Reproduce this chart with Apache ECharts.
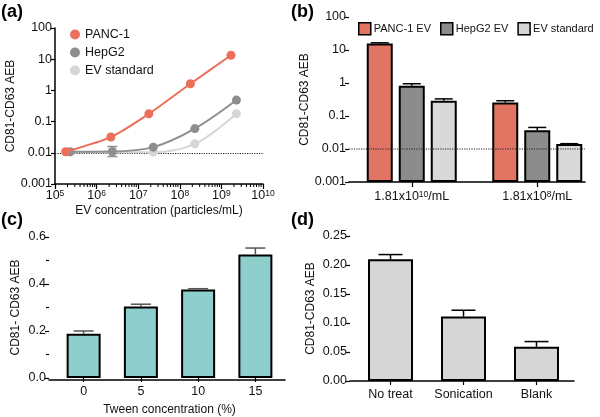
<!DOCTYPE html>
<html><head><meta charset="utf-8">
<script src="https://cdn.jsdelivr.net/npm/echarts@6/dist/echarts.min.js"></script>
<style>html,body{margin:0;padding:0;background:#fff}#c{width:600px;height:417px}</style>
</head><body><div id="c"></div>
<script>
// ---------- Panel (a) ----------
const PANC_X = [1.8e5, 2.2e6, 1.8e7, 1.8e8, 1.7e9];
const PANC_Y = [0.0108, 0.032, 0.177, 1.64, 13.4];
const HEPG2_X = [2.3e5, 2.4e6, 2.3e7, 2.3e8, 2.3e9];
const HEPG2_Y = [0.0108, 0.011, 0.0152, 0.0597, 0.49];
const HEPG2_ERR = [[2.4e6, 0.0076, 0.0159]];
const EV_X = [2.3e5, 2.4e6, 2.3e7, 2.3e8, 2.3e9];
const EV_Y = [0.0105, 0.0105, 0.0105, 0.0194, 0.18];
const BASELINE_A = 0.0105;
const X_EXP_A = [5, 6, 7, 8, 9];          // decades for minor ticks
const MINOR_K = [2, 3, 4, 5, 6, 7, 8, 9];
// ---------- Panel (b) ----------
const CAT_B = ['1.81x10^10/mL', '1.81x10^8/mL'];
const PANC_EV = [15.7, 0.255];
const PANC_EV_ERR = [16.5, 0.29];
const HEPG2_EV = [0.83, 0.037];
const HEPG2_EV_ERR = [0.95, 0.045];
const EVSTD_B = [0.29, 0.0142];
const EVSTD_B_ERR = [0.33, 0.0145];
const THRESH_B = 0.01;
// ---------- Panel (c) ----------
const TWEEN = ['0', '5', '10', '15'];
const TWEEN_Y = [0.188, 0.304, 0.377, 0.526];
const TWEEN_ERR = [0.200, 0.314, 0.380, 0.553];
// ---------- Panel (d) ----------
const TREAT = ['No treat', 'Sonication', 'Blank'];
const TREAT_Y = [0.210, 0.111, 0.059];
const TREAT_ERR = [0.218, 0.122, 0.068];

const FONT = "'Liberation Sans', Arial, Helvetica, sans-serif";
const C_PANC = '#EC6F5B', C_HEP = '#8E8E8E', C_EV = '#D6D6D6';
const B_PANC = '#E27464', B_HEP = '#8C8C8C', B_EV = '#D9D9D9';
const AX = {lineStyle: {color: '#000', width: 1.5}, onZero: false};
const TICK = {show: true, length: 4, lineStyle: {color: '#000', width: 1.2}};
const LBL = {color: '#111', fontSize: 12.5, fontFamily: FONT};
const NAME = {color: '#111', fontSize: 12, fontFamily: FONT};

function logLabel(v) {
  const e = Math.round(Math.log10(v));
  return e >= 0 ? String(Math.pow(10, e)) : '0.' + '0'.repeat(-e - 1) + '1';
}
function seg(x1, y1, x2, y2, color, w) {
  return {type: 'line', shape: {x1, y1, x2, y2}, style: {stroke: color, lineWidth: w}};
}
function errBar(color, half, offsetStep, both) {
  return function (params, api) {
    const off = offsetStep ? (api.value(3) - 1) * offsetStep : 0;
    const p = api.coord([api.value(0), api.value(1)]);
    const q = api.coord([api.value(0), api.value(2)]);
    const x = p[0] + off;
    const ch = [seg(x, p[1], x, q[1], color, 1.5), seg(x - half, q[1], x + half, q[1], color, 1.5)];
    if (both) ch.push(seg(x - half, p[1], x + half, p[1], color, 1.5));
    return {type: 'group', children: ch};
  };
}
const minorData = [];
X_EXP_A.forEach(e => MINOR_K.forEach(k => minorData.push([k * Math.pow(10, e), 0.001])));

const BW_B = 26, GAP_B = 6;
const zipB = (vals, errs, i) => CAT_B.map((c, j) => [j, vals[j], errs[j], i]);

const option = {
  animation: false,
  textStyle: {fontFamily: FONT},
  graphic: [
    {type: 'text', left: 1, top: 3, style: {text: '(a)', font: 'bold 18px ' + FONT, fill: '#000'}},
    {type: 'text', left: 291, top: 3, style: {text: '(b)', font: 'bold 18px ' + FONT, fill: '#000'}},
    {type: 'text', left: 1, top: 211, style: {text: '(c)', font: 'bold 18px ' + FONT, fill: '#000'}},
    {type: 'text', left: 291, top: 211, style: {text: '(d)', font: 'bold 18px ' + FONT, fill: '#000'}}
  ],
  legend: [
    {data: ['PANC-1', 'HepG2', 'EV standard'], orient: 'vertical', left: 65, top: 23, icon: 'circle',
     itemWidth: 10, itemHeight: 10, itemGap: 5, selectedMode: false,
     textStyle: {fontSize: 12.5, color: '#111', fontFamily: FONT}},
    {data: ['PANC-1 EV', 'HepG2 EV', 'EV standard'], left: 353, top: 17, width: 260, icon: 'rect',
     itemWidth: 12, itemHeight: 12, itemGap: 9, selectedMode: false,
     itemStyle: {borderColor: '#000', borderWidth: 1.5},
     textStyle: {fontSize: 11, color: '#111', fontFamily: FONT, padding: [0, 0, 0, -2]}}
  ],
  grid: [
    {left: 55, top: 28, width: 208, height: 156},
    {left: 349, top: 17, width: 254, height: 165},
    {left: 349, top: 17, width: 236, height: 165},
    {left: 55, top: 237, width: 229, height: 143},
    {left: 49, top: 237, width: 236, height: 143},
    {left: 354, top: 236, width: 219, height: 145},
    {left: 350, top: 236, width: 224, height: 145}
  ],
  xAxis: [
    {gridIndex: 0, type: 'log', logBase: 10, min: 1e5, max: 1e10, axisLine: AX, axisTick: Object.assign({}, TICK, {length: 5}),
     splitLine: {show: false},
     axisLabel: Object.assign({}, LBL, {margin: 5, formatter: v => '{b|10}{s|' + Math.round(Math.log10(v)) + '}',
       rich: {b: {fontSize: 12.5, color: '#111', fontFamily: FONT}, s: {fontSize: 8.5, color: '#111', fontFamily: FONT, verticalAlign: 'top'}}}),
     name: 'EV concentration (particles/mL)', nameLocation: 'middle', nameGap: 21, nameTextStyle: NAME},
    {gridIndex: 1, type: 'category', data: CAT_B, axisLine: {show: false}, axisTick: Object.assign({}, TICK, {alignWithLabel: true, length: 5}),
     axisLabel: Object.assign({}, LBL, {margin: 8, interval: 0, hideOverlap: false, formatter: s => s.replace(/\^(\d+)/, '{s|$1}'),
       rich: {s: {fontSize: 8.5, color: '#111', fontFamily: FONT, verticalAlign: 'top'}}})},
    {gridIndex: 2, type: 'value', min: 0, max: 1, axisLine: AX, axisTick: {show: false}, axisLabel: {show: false}, splitLine: {show: false}},
    {gridIndex: 3, type: 'category', data: TWEEN, axisLine: {show: false}, axisTick: Object.assign({}, TICK, {alignWithLabel: true}),
     axisLabel: Object.assign({}, LBL, {margin: 7, interval: 0}),
     name: 'Tween concentration (%)', nameLocation: 'middle', nameGap: 26, nameTextStyle: NAME},
    {gridIndex: 4, type: 'value', min: 0, max: 1, axisLine: AX, axisTick: {show: false}, axisLabel: {show: false}, splitLine: {show: false}},
    {gridIndex: 5, type: 'category', data: TREAT, axisLine: {show: false}, axisTick: Object.assign({}, TICK, {alignWithLabel: true}),
     axisLabel: Object.assign({}, LBL, {margin: 7, interval: 0, hideOverlap: false})},
    {gridIndex: 6, type: 'value', min: 0, max: 1, axisLine: AX, axisTick: {show: false}, axisLabel: {show: false}, splitLine: {show: false}}
  ],
  yAxis: [
    {gridIndex: 0, type: 'log', logBase: 10, min: 0.001, max: 100, axisLine: AX, axisTick: TICK, splitLine: {show: false},
     axisLabel: Object.assign({}, LBL, {margin: 3, formatter: logLabel}),
     name: 'CD81-CD63 AEB', nameLocation: 'middle', nameGap: 32, nameTextStyle: NAME},
    {gridIndex: 1, type: 'log', logBase: 10, min: 0.001, max: 100, startValue: 0.001, axisLine: AX, axisTick: TICK, splitLine: {show: false},
     axisLabel: Object.assign({}, LBL, {margin: 3, formatter: logLabel}),
     name: 'CD81-CD63 AEB', nameLocation: 'middle', nameGap: 31, nameTextStyle: NAME},
    {gridIndex: 2, type: 'log', logBase: 10, min: 0.001, max: 100, show: false},
    {gridIndex: 3, type: 'value', min: 0, max: 0.6, interval: 0.2, offset: 6, axisLine: AX, axisTick: TICK,
     minorTick: {show: true, splitNumber: 2, length: 3, lineStyle: {color: '#000', width: 1.2}},
     splitLine: {show: false}, axisLabel: Object.assign({}, LBL, {margin: 3, formatter: v => v.toFixed(1)}),
     name: 'CD81- CD63 AEB', nameLocation: 'middle', nameGap: 27, nameTextStyle: NAME},
    {gridIndex: 4, type: 'value', min: 0, max: 1, show: false},
    {gridIndex: 5, type: 'value', min: 0, max: 0.25, interval: 0.05, offset: 4, axisLine: AX, axisTick: TICK,
     splitLine: {show: false}, axisLabel: Object.assign({}, LBL, {margin: 3, formatter: v => v.toFixed(2)}),
     name: 'CD81-CD63 AEB', nameLocation: 'middle', nameGap: 33, nameTextStyle: NAME},
    {gridIndex: 6, type: 'value', min: 0, max: 1, show: false}
  ],
  series: [
    // (a)
    {name: 'EV standard', type: 'line', xAxisIndex: 0, yAxisIndex: 0, z: 2, smooth: 0.35,
     data: EV_X.map((x, i) => [x, EV_Y[i]]), symbol: 'circle', symbolSize: 9,
     lineStyle: {color: C_EV, width: 2}, itemStyle: {color: C_EV}},
    {name: 'HepG2', type: 'line', xAxisIndex: 0, yAxisIndex: 0, z: 3, smooth: 0.35,
     data: HEPG2_X.map((x, i) => [x, HEPG2_Y[i]]), symbol: 'circle', symbolSize: 9,
     lineStyle: {color: C_HEP, width: 2}, itemStyle: {color: C_HEP}},
    {name: 'PANC-1', type: 'line', xAxisIndex: 0, yAxisIndex: 0, z: 4, smooth: 0.2,
     data: PANC_X.map((x, i) => [x, PANC_Y[i]]), symbol: 'circle', symbolSize: 9,
     lineStyle: {color: C_PANC, width: 2}, itemStyle: {color: C_PANC},
     markLine: {silent: true, symbol: 'none', label: {show: false}, z: 1,
       lineStyle: {color: '#222', type: 'dotted', width: 1.2}, data: [{yAxis: BASELINE_A}]}},
    {type: 'custom', xAxisIndex: 0, yAxisIndex: 0, z: 3, data: HEPG2_ERR, encode: {x: 0, y: [1, 2]},
     renderItem: errBar(C_HEP, 5, 0, true)},
    {type: 'custom', xAxisIndex: 0, yAxisIndex: 0, z: 5, data: minorData, encode: {x: 0, y: 1}, silent: true,
     renderItem: (params, api) => {
       const p = api.coord([api.value(0), api.value(1)]);
       return seg(p[0], p[1], p[0], p[1] + 3, '#000', 1);
     }},
    // (b)
    {name: 'PANC-1 EV', type: 'bar', xAxisIndex: 1, yAxisIndex: 1, data: PANC_EV, barWidth: BW_B, barGap: (GAP_B / BW_B * 100) + '%',
     itemStyle: {color: B_PANC, borderColor: '#000', borderWidth: 2}},
    {name: 'HepG2 EV', type: 'bar', xAxisIndex: 1, yAxisIndex: 1, data: HEPG2_EV, barWidth: BW_B, barGap: (GAP_B / BW_B * 100) + '%',
     itemStyle: {color: B_HEP, borderColor: '#000', borderWidth: 2}},
    {name: 'EV standard', type: 'bar', xAxisIndex: 1, yAxisIndex: 1, data: EVSTD_B, barWidth: BW_B, barGap: (GAP_B / BW_B * 100) + '%',
     itemStyle: {color: B_EV, borderColor: '#000', borderWidth: 2}},
    {type: 'custom', xAxisIndex: 1, yAxisIndex: 1, z: 4,
     data: [].concat(zipB(PANC_EV, PANC_EV_ERR, 0), zipB(HEPG2_EV, HEPG2_EV_ERR, 1), zipB(EVSTD_B, EVSTD_B_ERR, 2)),
     encode: {x: 0, y: [1, 2]}, renderItem: errBar('#000', 9, BW_B + GAP_B, false)},
    {type: 'line', xAxisIndex: 2, yAxisIndex: 2, z: 5, silent: true, symbol: 'none',
     data: [[0, THRESH_B], [1, THRESH_B]], lineStyle: {color: '#222', type: 'dotted', width: 1.2}},
    // (c)
    {type: 'bar', xAxisIndex: 3, yAxisIndex: 3, data: TWEEN_Y, barWidth: 34,
     itemStyle: {color: '#8ECFCE', borderColor: '#000', borderWidth: 2}},
    {type: 'custom', xAxisIndex: 3, yAxisIndex: 3, z: 4, data: TWEEN.map((c, i) => [i, TWEEN_Y[i], TWEEN_ERR[i]]),
     encode: {x: 0, y: [1, 2]}, renderItem: errBar('#555', 10, 0, false)},
    // (d)
    {type: 'bar', xAxisIndex: 5, yAxisIndex: 5, data: TREAT_Y, barWidth: 45,
     itemStyle: {color: '#D6D6D6', borderColor: '#000', borderWidth: 2}},
    {type: 'custom', xAxisIndex: 5, yAxisIndex: 5, z: 4, data: TREAT.map((c, i) => [i, TREAT_Y[i], TREAT_ERR[i]]),
     encode: {x: 0, y: [1, 2]}, renderItem: errBar('#000', 12, 0, false)}
  ]
};
const chart = echarts.init(document.getElementById('c'), null, {renderer: 'canvas'});
chart.setOption(option);
</script>
</body></html>
